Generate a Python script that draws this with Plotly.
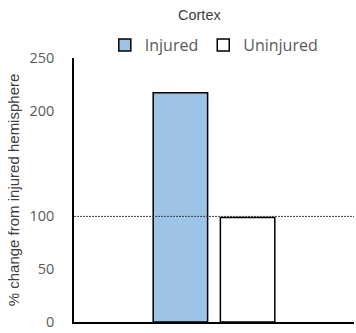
import plotly.graph_objects as go

categories = ["Cortex"]
series_names = ["Injured", "Uninjured"]
injured = [217]
uninjured = [99]
reference_level = 100
y_ticks = [0, 50, 100, 200, 250]

fig = go.Figure()
fig.add_trace(go.Bar(x=categories, y=injured, name=series_names[0],
                     marker=dict(color="#9DC3E6", line=dict(color="#000000", width=1.5))))
fig.add_trace(go.Bar(x=categories, y=uninjured, name=series_names[1],
                     marker=dict(color="#FFFFFF", line=dict(color="#000000", width=1.5))))

fig.add_shape(type="line", xref="paper", yref="y", x0=0, x1=1,
              y0=reference_level, y1=reference_level,
              line=dict(color="#404040", width=1, dash="2px,1px"), layer="above")

fig.update_layout(
    width=356, height=333,
    margin=dict(l=74, r=2, t=58, b=8),
    paper_bgcolor="white", plot_bgcolor="white",
    barmode="group", bargap=0.52, bargroupgap=0.19,
    title=dict(text="Cortex", x=0.56, xanchor="center", y=0.956, yanchor="middle",
               font=dict(family="Liberation Sans, Arial", size=14.5, color="#404040")),
    legend=dict(orientation="h", x=0.11, xanchor="left", y=1.049, yanchor="middle",
                font=dict(family="Open Sans, Liberation Sans", size=16, color="#595959"),
                itemwidth=30, tracegroupgap=0, bgcolor="rgba(0,0,0,0)"),
    font=dict(family="Liberation Sans, Arial", color="#595959"),
    xaxis=dict(showticklabels=False, showline=True, linecolor="#000000", linewidth=1.5,
               ticks="", showgrid=False, zeroline=False),
    yaxis=dict(range=[0, 250], tickvals=y_ticks, showline=True, linecolor="#000000",
               linewidth=1.5, ticks="", showgrid=False, zeroline=False,
               ticklabeloverflow="allow",
               tickfont=dict(family="Open Sans, Liberation Sans", size=14.5, color="#595959"),
               ticklabelstandoff=15,
               title=dict(text="% change from injured hemisphere", standoff=6,
                          font=dict(family="Liberation Sans, Arial", size=15, color="#404040"))),
)

fig.write_html("out.html", config={"displayModeBar": False},
               post_script="document.body.style.margin='0';")
